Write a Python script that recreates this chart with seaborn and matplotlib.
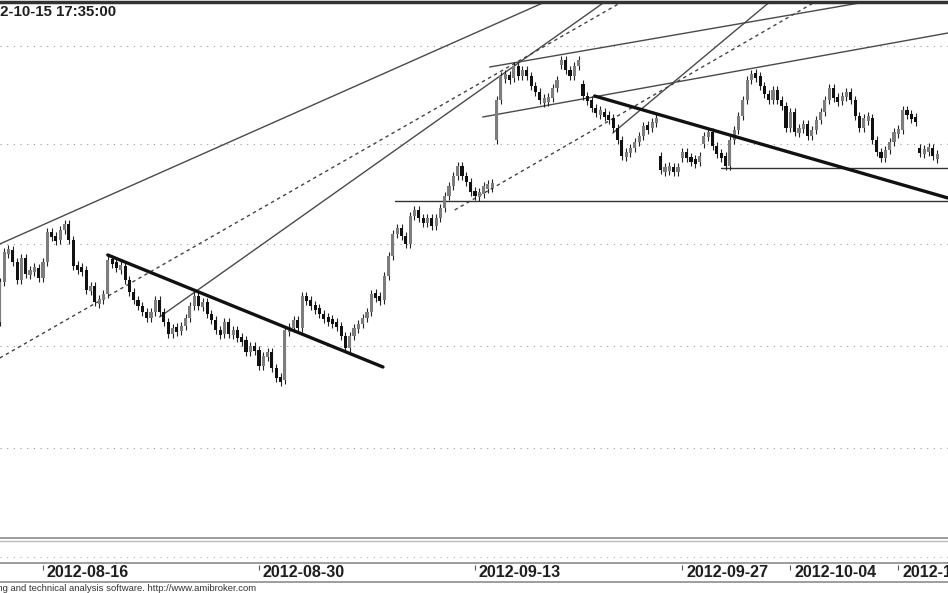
import numpy as np
import pandas as pd
import matplotlib
matplotlib.use("Agg")
import matplotlib.pyplot as plt
from matplotlib.lines import Line2D
import seaborn as sns

# hourly closes, 5 bars per session, starting 2012-08-14
closes = [
    2333, 2348, 2349, 2343, 2334, 2345, 2337, 2339, 2340, 2335,
    2343, 2358, 2356, 2354, 2359, 2362, 2354, 2341, 2340, 2339,
    2329, 2331, 2323, 2324, 2327, 2344, 2343, 2340, 2341, 2334,
    2328, 2324, 2321, 2318, 2315, 2318, 2324, 2318, 2313, 2307,
    2310, 2309, 2311, 2315, 2321, 2326, 2321, 2323, 2317, 2314,
    2309, 2307, 2313, 2307, 2309, 2305, 2304, 2298, 2301, 2299,
    2291, 2296, 2298, 2290, 2285, 2284, 2309, 2310, 2314, 2310,
    2326, 2324, 2321, 2320, 2317, 2315, 2314, 2313, 2311, 2306,
    2300, 2306, 2310, 2312, 2315, 2318, 2327, 2326, 2324, 2336,
    2346, 2357, 2360, 2356, 2352, 2366, 2369, 2365, 2363, 2365,
    2361, 2365, 2370, 2376, 2381, 2386, 2391, 2386, 2383, 2378,
    2377, 2377, 2381, 2381, 2382, 2424, 2436, 2436, 2435, 2441,
    2436, 2439, 2436, 2431, 2428, 2424, 2424, 2425, 2430, 2434,
    2444, 2439, 2436, 2441, 2444, 2426, 2424, 2420, 2418, 2418,
    2416, 2415, 2410, 2404, 2396, 2398, 2400, 2403, 2406, 2411,
    2410, 2413, 2415, 2389, 2390, 2390, 2389, 2390, 2398, 2395,
    2394, 2393, 2396, 2406, 2408, 2401, 2397, 2396, 2391, 2404,
    2409, 2416, 2424, 2434, 2437, 2436, 2431, 2427, 2424, 2429,
    2424, 2421, 2410, 2418, 2408, 2410, 2412, 2406, 2409, 2414,
    2418, 2424, 2430, 2425, 2424, 2426, 2428, 2424, 2416, 2410,
    2415, 2415, 2404, 2398, 2395, 2399, 2403, 2408, 2409, 2419,
    2417, 2415, 2414, 2398, 2399, 2400, 2396, 2396,
]
# opens that differ from the previous close (session gaps)
gap_opens = {0: 2313, 115: 2404, 130: 2442, 135: 2432, 153: 2396,
             158: 2395, 163: 2402, 213: 2400}

tick_bars = [10, 60, 110, 158, 183, 208]
tick_labels = ["2012-08-16", "2012-08-30", "2012-09-13",
               "2012-09-27", "2012-10-04", "2012-10-11"]

grid_levels = [2250, 2301, 2352, 2402, 2451]

# trend lines as (bar0, price0, bar1, price1)
thin_lines = [(0, 2352, 126.2, 2473), (37, 2315.5, 140, 2473),
              (111.8, 2415.5, 219.5, 2457.5), (113.4, 2440.5, 203, 2474),
              (141.9, 2407.5, 178.2, 2473)]
dashed_lines = [(0, 2295, 144, 2473), (105.3, 2369, 188.7, 2473)]
thick_lines = [(25, 2346.5, 88.7, 2290.5), (137.7, 2426, 219.5, 2375)]
levels = [(91.4, 2373.5, 219.5, 2373.5), (167, 2390, 219.5, 2390)]

W, H = 948, 593
sns.set_style("white")
fig = plt.figure(figsize=(W / 100, H / 100), dpi=100)


def fy(py):
    return 1 - py / H


ax = fig.add_axes([0, fy(538), 1, (538 - 2) / H])
ax.axis("off")

for lv in grid_levels:
    ax.axhline(lv, color="#9a9a9a", lw=0.8, ls=(0, (1, 5)), zorder=0)

df = pd.DataFrame({"close": closes})
df["open"] = df["close"].shift(1)
for k, v in gap_opens.items():
    df.loc[k, "open"] = v
df["up"] = df["close"] >= df["open"]
lo = df[["open", "close"]].min(axis=1)
hi = df[["open", "close"]].max(axis=1)
mid = (lo + hi) / 2
body = (hi - lo).clip(lower=2.5)
bottom = np.minimum(lo, mid - 1.25)
colors = np.where(df["up"], "#7d7d7d", "#111111")

# wicks
ax.vlines(df.index, bottom - 2, bottom + body + 2, color="#222222", lw=0.8, zorder=2.5)
ax.bar(df.index, body, bottom=bottom, width=0.72, color=colors, linewidth=0, zorder=3)

for b0, p0, b1, p1 in thin_lines:
    sns.lineplot(x=[b0, b1], y=[p0, p1], ax=ax, color="#4a4a4a", lw=1.0, zorder=2)
for b0, p0, b1, p1 in dashed_lines:
    sns.lineplot(x=[b0, b1], y=[p0, p1], ax=ax, color="#444444", lw=1.0,
                 ls=(0, (2.5, 2.5)), zorder=2)
for b0, p0, b1, p1 in thick_lines:
    sns.lineplot(x=[b0, b1], y=[p0, p1], ax=ax, color="#111111", lw=2.4, zorder=4)
for b0, p0, b1, p1 in levels:
    sns.lineplot(x=[b0, b1], y=[p0, p1], ax=ax, color="#333333", lw=1.0, zorder=2)
ax.set_xlim(0.05, 219.5)
ax.set_ylim(2205, 2473)

# frame lines
fig.add_artist(Line2D([0, 1], [fy(1.5), fy(1.5)], color="#333333", lw=2.5))
fig.add_artist(Line2D([0, 1], [fy(538), fy(538)], color="#8c8c8c", lw=1.2))
fig.add_artist(Line2D([0, 1], [fy(540.5), fy(540.5)], color="#bbbbbb", lw=1.0))
fig.add_artist(Line2D([0, 1], [fy(557), fy(557)], color="#b0b0b0", lw=0.8,
                      ls=(0, (1, 5))))
fig.add_artist(Line2D([0, 1], [fy(563), fy(563)], color="#8c8c8c", lw=1.2))
fig.add_artist(Line2D([0, 1], [fy(582), fy(582)], color="#8c8c8c", lw=1.2))

# date axis
tax = fig.add_axes([0, fy(582), 1, (582 - 563) / H])
tax.set_xlim(0.05, 219.5)
tax.set_ylim(0, 1)
tax.axis("off")
for b, lab in zip(tick_bars, tick_labels):
    tax.vlines(b, 0.62, 0.9, color="#555555", lw=0.8)
    tax.text(b + 0.9, 0.27, lab, ha="left", va="baseline", fontsize=11.6,
             fontweight="bold", family="Liberation Sans", color="#1e1e1e",
             clip_on=False)

fig.text(116 / W, fy(16), "2012-10-15 17:35:00", ha="right", va="baseline",
         fontsize=10.8, fontweight="bold", family="Liberation Sans", color="#1e1e1e")
fig.text(256 / W, fy(591), "AmiBroker - advanced charting and technical analysis software. http://www.amibroker.com",
         ha="right", va="baseline", fontsize=6.8, family="Liberation Sans", color="#333333")

fig.savefig("out.png", dpi=100)
